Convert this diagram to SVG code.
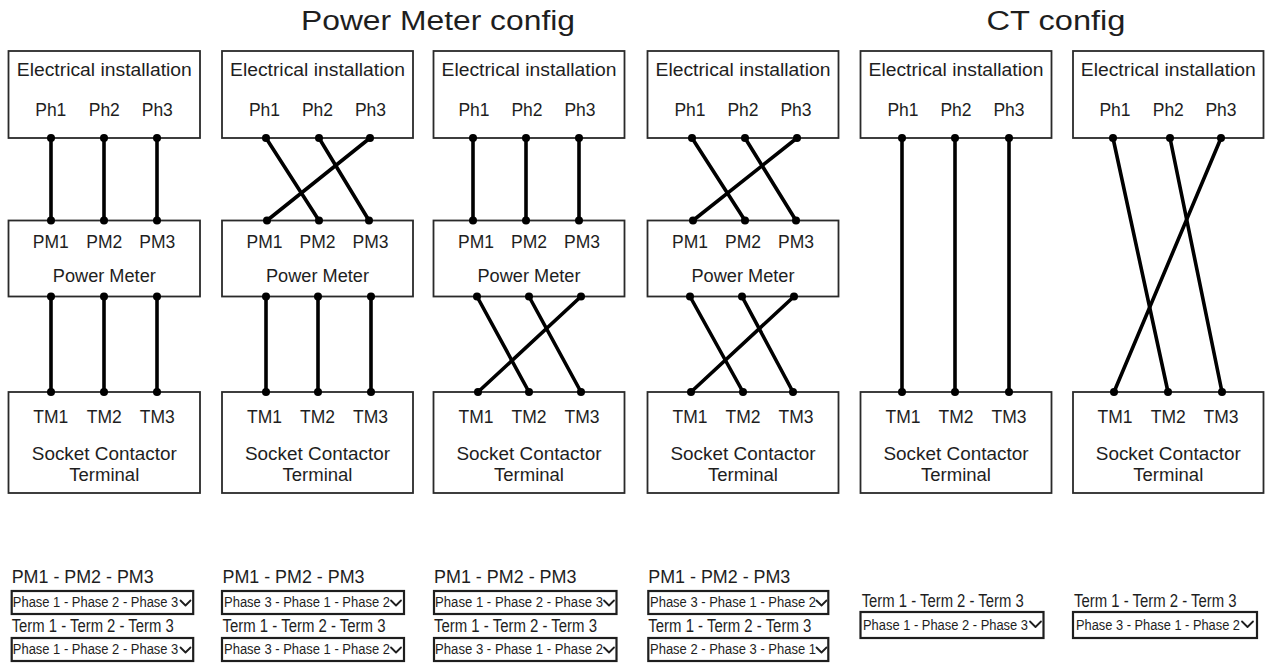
<svg xmlns="http://www.w3.org/2000/svg" width="1266" height="663" viewBox="0 0 1266 663">
<style>
text{font-family:"Liberation Sans",Arial,Helvetica,sans-serif;fill:#1e1e1e}
.box{fill:#fff;stroke:#2a2a2a;stroke-width:1.8}
.lbl{font-size:17.5px;text-anchor:middle}
.ttl{font-size:27px;text-anchor:middle}
.wire{stroke:#000;stroke-width:3.6;stroke-linecap:round;fill:none}
.dot{fill:#000}
.dd{fill:#fff;stroke:#1e1e1e;stroke-width:2.2}
.ddt{font-size:13.8px}
.cap{font-size:17.5px}
.chev{fill:none;stroke:#1e1e1e;stroke-width:1.8;stroke-linecap:round;stroke-linejoin:round}
</style>
<rect width="1266" height="663" fill="#fff"/>

<g id="titles">
<text class="ttl" x="438" y="30" textLength="274" lengthAdjust="spacingAndGlyphs">Power Meter config</text>
<text class="ttl" x="1056" y="30" textLength="139" lengthAdjust="spacingAndGlyphs">CT config</text>
</g>

<!-- Column 1 -->
<g id="col1-install">
<rect class="box" x="8.5" y="51" width="191.5" height="87"/>
<text class="lbl" x="104.3" y="75.5" textLength="175" lengthAdjust="spacingAndGlyphs">Electrical installation</text>
<text class="lbl" x="50.8" y="115.5">Ph1</text><text class="lbl" x="104.3" y="115.5">Ph2</text><text class="lbl" x="157.3" y="115.5">Ph3</text>
</g>
<g id="col1-meter">
<rect class="box" x="8.5" y="220.5" width="191.5" height="76"/>
<text class="lbl" x="50.8" y="248">PM1</text><text class="lbl" x="104.3" y="248">PM2</text><text class="lbl" x="157.3" y="248">PM3</text>
<text class="lbl" x="104.3" y="282" textLength="103" lengthAdjust="spacingAndGlyphs">Power Meter</text>
</g>
<g id="col1-terminal">
<rect class="box" x="8.5" y="392" width="191.5" height="101"/>
<text class="lbl" x="50.8" y="423">TM1</text><text class="lbl" x="104.3" y="423">TM2</text><text class="lbl" x="157.3" y="423">TM3</text>
<text class="lbl" x="104.3" y="460" textLength="145" lengthAdjust="spacingAndGlyphs">Socket Contactor</text>
<text class="lbl" x="104.3" y="481" textLength="70" lengthAdjust="spacingAndGlyphs">Terminal</text>
</g>

<!-- Column 2 -->
<g id="col2-install">
<rect class="box" x="222" y="51" width="191" height="87"/>
<text class="lbl" x="317.5" y="75.5" textLength="175" lengthAdjust="spacingAndGlyphs">Electrical installation</text>
<text class="lbl" x="264.5" y="115.5">Ph1</text><text class="lbl" x="317.5" y="115.5">Ph2</text><text class="lbl" x="370.5" y="115.5">Ph3</text>
</g>
<g id="col2-meter">
<rect class="box" x="222" y="220.5" width="191" height="76"/>
<text class="lbl" x="264.5" y="248">PM1</text><text class="lbl" x="317.5" y="248">PM2</text><text class="lbl" x="370.5" y="248">PM3</text>
<text class="lbl" x="317.5" y="282" textLength="103" lengthAdjust="spacingAndGlyphs">Power Meter</text>
</g>
<g id="col2-terminal">
<rect class="box" x="222" y="392" width="191" height="101"/>
<text class="lbl" x="264.5" y="423">TM1</text><text class="lbl" x="317.5" y="423">TM2</text><text class="lbl" x="370.5" y="423">TM3</text>
<text class="lbl" x="317.5" y="460" textLength="145" lengthAdjust="spacingAndGlyphs">Socket Contactor</text>
<text class="lbl" x="317.5" y="481" textLength="70" lengthAdjust="spacingAndGlyphs">Terminal</text>
</g>

<!-- Column 3 -->
<g id="col3-install">
<rect class="box" x="433.5" y="51" width="191" height="87"/>
<text class="lbl" x="529" y="75.5" textLength="175" lengthAdjust="spacingAndGlyphs">Electrical installation</text>
<text class="lbl" x="474" y="115.5">Ph1</text><text class="lbl" x="527" y="115.5">Ph2</text><text class="lbl" x="580" y="115.5">Ph3</text>
</g>
<g id="col3-meter">
<rect class="box" x="433.5" y="220.5" width="191" height="76"/>
<text class="lbl" x="476" y="248">PM1</text><text class="lbl" x="529" y="248">PM2</text><text class="lbl" x="582" y="248">PM3</text>
<text class="lbl" x="529" y="282" textLength="103" lengthAdjust="spacingAndGlyphs">Power Meter</text>
</g>
<g id="col3-terminal">
<rect class="box" x="433.5" y="392" width="191" height="101"/>
<text class="lbl" x="476" y="423">TM1</text><text class="lbl" x="529" y="423">TM2</text><text class="lbl" x="582" y="423">TM3</text>
<text class="lbl" x="529" y="460" textLength="145" lengthAdjust="spacingAndGlyphs">Socket Contactor</text>
<text class="lbl" x="529" y="481" textLength="70" lengthAdjust="spacingAndGlyphs">Terminal</text>
</g>

<!-- Column 4 -->
<g id="col4-install">
<rect class="box" x="647.5" y="51" width="191" height="87"/>
<text class="lbl" x="743" y="75.5" textLength="175" lengthAdjust="spacingAndGlyphs">Electrical installation</text>
<text class="lbl" x="690" y="115.5">Ph1</text><text class="lbl" x="743" y="115.5">Ph2</text><text class="lbl" x="796" y="115.5">Ph3</text>
</g>
<g id="col4-meter">
<rect class="box" x="647.5" y="220.5" width="191" height="76"/>
<text class="lbl" x="690" y="248">PM1</text><text class="lbl" x="743" y="248">PM2</text><text class="lbl" x="796" y="248">PM3</text>
<text class="lbl" x="743" y="282" textLength="103" lengthAdjust="spacingAndGlyphs">Power Meter</text>
</g>
<g id="col4-terminal">
<rect class="box" x="647.5" y="392" width="191" height="101"/>
<text class="lbl" x="690" y="423">TM1</text><text class="lbl" x="743" y="423">TM2</text><text class="lbl" x="796" y="423">TM3</text>
<text class="lbl" x="743" y="460" textLength="145" lengthAdjust="spacingAndGlyphs">Socket Contactor</text>
<text class="lbl" x="743" y="481" textLength="70" lengthAdjust="spacingAndGlyphs">Terminal</text>
</g>

<!-- Column 5 (CT) -->
<g id="col5-install">
<rect class="box" x="860.5" y="51" width="191" height="87"/>
<text class="lbl" x="956" y="75.5" textLength="175" lengthAdjust="spacingAndGlyphs">Electrical installation</text>
<text class="lbl" x="903" y="115.5">Ph1</text><text class="lbl" x="956" y="115.5">Ph2</text><text class="lbl" x="1009" y="115.5">Ph3</text>
</g>
<g id="col5-terminal">
<rect class="box" x="860.5" y="392" width="191" height="101"/>
<text class="lbl" x="903" y="423">TM1</text><text class="lbl" x="956" y="423">TM2</text><text class="lbl" x="1009" y="423">TM3</text>
<text class="lbl" x="956" y="460" textLength="145" lengthAdjust="spacingAndGlyphs">Socket Contactor</text>
<text class="lbl" x="956" y="481" textLength="70" lengthAdjust="spacingAndGlyphs">Terminal</text>
</g>

<!-- Column 6 (CT) -->
<g id="col6-install">
<rect class="box" x="1073" y="51" width="190.5" height="87"/>
<text class="lbl" x="1168.3" y="75.5" textLength="175" lengthAdjust="spacingAndGlyphs">Electrical installation</text>
<text class="lbl" x="1115" y="115.5">Ph1</text><text class="lbl" x="1168.3" y="115.5">Ph2</text><text class="lbl" x="1221" y="115.5">Ph3</text>
</g>
<g id="col6-terminal">
<rect class="box" x="1073" y="392" width="190.5" height="101"/>
<text class="lbl" x="1115" y="423">TM1</text><text class="lbl" x="1168.3" y="423">TM2</text><text class="lbl" x="1221" y="423">TM3</text>
<text class="lbl" x="1168.3" y="460" textLength="145" lengthAdjust="spacingAndGlyphs">Socket Contactor</text>
<text class="lbl" x="1168.3" y="481" textLength="70" lengthAdjust="spacingAndGlyphs">Terminal</text>
</g>

<g id="connectors">
<!-- col1 -->
<line class="wire" x1="51" y1="138" x2="51" y2="220.5"/>
<line class="wire" x1="104" y1="138" x2="104" y2="220.5"/>
<line class="wire" x1="157" y1="138" x2="157" y2="220.5"/>
<line class="wire" x1="51" y1="296.5" x2="51" y2="392"/>
<line class="wire" x1="104" y1="296.5" x2="104" y2="392"/>
<line class="wire" x1="157" y1="296.5" x2="157" y2="392"/>
<!-- col2 -->
<line class="wire" x1="266" y1="138" x2="319" y2="220.5"/>
<line class="wire" x1="319" y1="138" x2="369" y2="220.5"/>
<line class="wire" x1="370" y1="138" x2="267" y2="220.5"/>
<line class="wire" x1="266" y1="296.5" x2="266" y2="392"/>
<line class="wire" x1="318" y1="296.5" x2="318" y2="392"/>
<line class="wire" x1="371" y1="296.5" x2="371" y2="392"/>
<!-- col3 -->
<line class="wire" x1="473" y1="138" x2="473" y2="220.5"/>
<line class="wire" x1="526" y1="138" x2="526" y2="220.5"/>
<line class="wire" x1="579" y1="138" x2="579" y2="220.5"/>
<line class="wire" x1="477" y1="296.5" x2="529" y2="392"/>
<line class="wire" x1="529" y1="296.5" x2="581" y2="392"/>
<line class="wire" x1="581" y1="296.5" x2="478" y2="392"/>
<!-- col4 -->
<line class="wire" x1="692" y1="138" x2="745" y2="220.5"/>
<line class="wire" x1="745" y1="138" x2="796" y2="220.5"/>
<line class="wire" x1="797" y1="138" x2="693" y2="220.5"/>
<line class="wire" x1="690" y1="296.5" x2="743" y2="392"/>
<line class="wire" x1="742" y1="296.5" x2="793" y2="392"/>
<line class="wire" x1="794" y1="296.5" x2="691" y2="392"/>
<!-- col5 -->
<line class="wire" x1="902" y1="138" x2="902" y2="392"/>
<line class="wire" x1="955" y1="138" x2="955" y2="392"/>
<line class="wire" x1="1009" y1="138" x2="1009" y2="392"/>
<!-- col6 -->
<line class="wire" x1="1113" y1="138" x2="1168" y2="392"/>
<line class="wire" x1="1170" y1="138" x2="1222" y2="392"/>
<line class="wire" x1="1221" y1="138" x2="1114" y2="392"/>
<!-- dots -->
<g class="dot">
<circle cx="51" cy="138" r="4"/><circle cx="104" cy="138" r="4"/><circle cx="157" cy="138" r="4"/>
<circle cx="51" cy="220.5" r="4"/><circle cx="104" cy="220.5" r="4"/><circle cx="157" cy="220.5" r="4"/>
<circle cx="51" cy="296.5" r="4"/><circle cx="104" cy="296.5" r="4"/><circle cx="157" cy="296.5" r="4"/>
<circle cx="51" cy="392" r="4"/><circle cx="104" cy="392" r="4"/><circle cx="157" cy="392" r="4"/>

<circle cx="266" cy="138" r="4"/><circle cx="319" cy="138" r="4"/><circle cx="370" cy="138" r="4"/>
<circle cx="267" cy="220.5" r="4"/><circle cx="319" cy="220.5" r="4"/><circle cx="369" cy="220.5" r="4"/>
<circle cx="266" cy="296.5" r="4"/><circle cx="318" cy="296.5" r="4"/><circle cx="371" cy="296.5" r="4"/>
<circle cx="266" cy="392" r="4"/><circle cx="318" cy="392" r="4"/><circle cx="371" cy="392" r="4"/>

<circle cx="473" cy="138" r="4"/><circle cx="526" cy="138" r="4"/><circle cx="579" cy="138" r="4"/>
<circle cx="473" cy="220.5" r="4"/><circle cx="526" cy="220.5" r="4"/><circle cx="579" cy="220.5" r="4"/>
<circle cx="477" cy="296.5" r="4"/><circle cx="529" cy="296.5" r="4"/><circle cx="581" cy="296.5" r="4"/>
<circle cx="478" cy="392" r="4"/><circle cx="529" cy="392" r="4"/><circle cx="581" cy="392" r="4"/>

<circle cx="692" cy="138" r="4"/><circle cx="745" cy="138" r="4"/><circle cx="797" cy="138" r="4"/>
<circle cx="693" cy="220.5" r="4"/><circle cx="745" cy="220.5" r="4"/><circle cx="796" cy="220.5" r="4"/>
<circle cx="690" cy="296.5" r="4"/><circle cx="742" cy="296.5" r="4"/><circle cx="794" cy="296.5" r="4"/>
<circle cx="691" cy="392" r="4"/><circle cx="743" cy="392" r="4"/><circle cx="793" cy="392" r="4"/>

<circle cx="902" cy="138" r="4"/><circle cx="955" cy="138" r="4"/><circle cx="1009" cy="138" r="4"/>
<circle cx="902" cy="392" r="4"/><circle cx="955" cy="392" r="4"/><circle cx="1009" cy="392" r="4"/>

<circle cx="1113" cy="138" r="4"/><circle cx="1170" cy="138" r="4"/><circle cx="1221" cy="138" r="4"/>
<circle cx="1114" cy="392" r="4"/><circle cx="1168" cy="392" r="4"/><circle cx="1222" cy="392" r="4"/>
</g>
</g>

<!-- Dropdown settings -->
<g id="settings1">
<text class="cap" x="11.7" y="583" textLength="142" lengthAdjust="spacingAndGlyphs">PM1 - PM2 - PM3</text>
<rect class="dd" x="11.7" y="591" width="181.5" height="23"/>
<text class="ddt" x="12.8" y="607" textLength="165.5" lengthAdjust="spacingAndGlyphs">Phase 1 - Phase 2 - Phase 3</text>
<polyline class="chev" points="180.5,600.5 185.5,605.5 190.5,600.5"/>
<text class="cap" x="11.7" y="631.7" textLength="162" lengthAdjust="spacingAndGlyphs">Term 1 - Term 2 - Term 3</text>
<rect class="dd" x="11.7" y="638" width="181.5" height="23"/>
<text class="ddt" x="12.8" y="654" textLength="165.5" lengthAdjust="spacingAndGlyphs">Phase 1 - Phase 2 - Phase 3</text>
<polyline class="chev" points="180.5,647.5 185.5,652.5 190.5,647.5"/>
</g>
<g id="settings2">
<text class="cap" x="222.5" y="583" textLength="142" lengthAdjust="spacingAndGlyphs">PM1 - PM2 - PM3</text>
<rect class="dd" x="222" y="591" width="182" height="23"/>
<text class="ddt" x="224" y="607" textLength="166" lengthAdjust="spacingAndGlyphs">Phase 3 - Phase 1 - Phase 2</text>
<polyline class="chev" points="391,600.5 396,605.5 401,600.5"/>
<text class="cap" x="222.5" y="631.7" textLength="163" lengthAdjust="spacingAndGlyphs">Term 1 - Term 2 - Term 3</text>
<rect class="dd" x="222" y="638" width="182" height="23"/>
<text class="ddt" x="224" y="654" textLength="166" lengthAdjust="spacingAndGlyphs">Phase 3 - Phase 1 - Phase 2</text>
<polyline class="chev" points="391,647.5 396,652.5 401,647.5"/>
</g>
<g id="settings3">
<text class="cap" x="434" y="583" textLength="142.5" lengthAdjust="spacingAndGlyphs">PM1 - PM2 - PM3</text>
<rect class="dd" x="434" y="591" width="182.5" height="23"/>
<text class="ddt" x="435" y="607" textLength="168" lengthAdjust="spacingAndGlyphs">Phase 1 - Phase 2 - Phase 3</text>
<polyline class="chev" points="604,600.5 609,605.5 614,600.5"/>
<text class="cap" x="434" y="631.7" textLength="163" lengthAdjust="spacingAndGlyphs">Term 1 - Term 2 - Term 3</text>
<rect class="dd" x="434" y="638" width="182.5" height="23"/>
<text class="ddt" x="435" y="654" textLength="168" lengthAdjust="spacingAndGlyphs">Phase 3 - Phase 1 - Phase 2</text>
<polyline class="chev" points="604,647.5 609,652.5 614,647.5"/>
</g>
<g id="settings4">
<text class="cap" x="648.3" y="583" textLength="142" lengthAdjust="spacingAndGlyphs">PM1 - PM2 - PM3</text>
<rect class="dd" x="648.3" y="591" width="180" height="23"/>
<text class="ddt" x="650" y="607" textLength="166" lengthAdjust="spacingAndGlyphs">Phase 3 - Phase 1 - Phase 2</text>
<polyline class="chev" points="816.5,600.5 821.5,605.5 826.5,600.5"/>
<text class="cap" x="648.3" y="631.7" textLength="163" lengthAdjust="spacingAndGlyphs">Term 1 - Term 2 - Term 3</text>
<rect class="dd" x="648.3" y="638" width="180" height="23"/>
<text class="ddt" x="650" y="654" textLength="166" lengthAdjust="spacingAndGlyphs">Phase 2 - Phase 3 - Phase 1</text>
<polyline class="chev" points="816.5,647.5 821.5,652.5 826.5,647.5"/>
</g>
<g id="settings5">
<text class="cap" x="861.7" y="607" textLength="162" lengthAdjust="spacingAndGlyphs">Term 1 - Term 2 - Term 3</text>
<rect class="dd" x="860.5" y="612" width="183" height="26"/>
<text class="ddt" x="863" y="629.5" textLength="165" lengthAdjust="spacingAndGlyphs">Phase 1 - Phase 2 - Phase 3</text>
<polyline class="chev" points="1030,621.5 1035.5,627 1041,621.5"/>
</g>
<g id="settings6">
<text class="cap" x="1074" y="607" textLength="162.5" lengthAdjust="spacingAndGlyphs">Term 1 - Term 2 - Term 3</text>
<rect class="dd" x="1073" y="612" width="184" height="26"/>
<text class="ddt" x="1076" y="629.5" textLength="164" lengthAdjust="spacingAndGlyphs">Phase 3 - Phase 1 - Phase 2</text>
<polyline class="chev" points="1242,621.5 1247.5,627 1253,621.5"/>
</g>
</svg>
